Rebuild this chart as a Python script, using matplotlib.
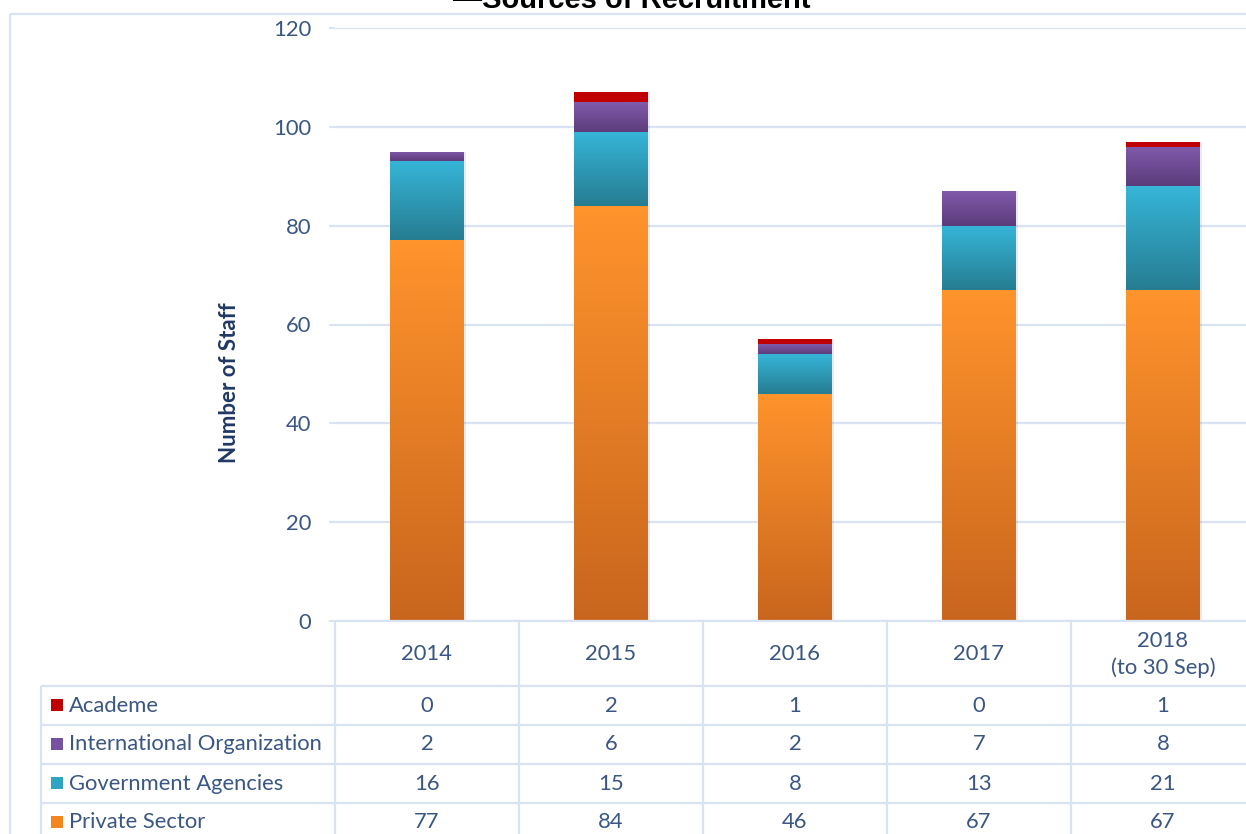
import matplotlib
matplotlib.use('Agg')
import matplotlib.pyplot as plt
import numpy as np
from matplotlib.colors import LinearSegmentedColormap
from matplotlib.lines import Line2D
from matplotlib.patches import Rectangle

# ---- data ----
years = ['2014', '2015', '2016', '2017', '2018\n(to 30 Sep)']
series_names = ['Academe', 'International Organization', 'Government Agencies', 'Private Sector']
academe = [0, 2, 1, 0, 1]
intl_org = [2, 6, 2, 7, 8]
gov_agencies = [16, 15, 8, 13, 21]
private_sector = [77, 84, 46, 67, 67]
yticks = [0, 20, 40, 60, 80, 100, 120]
title = '\u2014Sources of Recruitment'
ylabel = 'Number of Staff'

# ---- style ----
W, H = 1246, 834
FONT = 'Lato'
FS = 15.8
TXT = '#3A5683'
GRID = '#D9E3F3'
grad = {
    'Private Sector': ('#FF932C', '#C9661E'),
    'Government Agencies': ('#36B5D8', '#267D92'),
    'International Organization': ('#815AAB', '#5C3C7B'),
    'Academe': ('#C00000', '#C00000'),
}
swatch = {
    'Academe': '#C00000',
    'International Organization': '#7452A0',
    'Government Agencies': '#2FA5C3',
    'Private Sector': '#F5861F',
}

fig = plt.figure(figsize=(W / 100, H / 100), dpi=100)
fig.patch.set_facecolor('white')

def fx(px):
    return px / W

def fy(py):
    return 1 - py / H

ax = fig.add_axes([fx(335), fy(621), (1255 - 335) / W, (621 - 28) / H])
x = np.arange(len(years))
stack = [('Private Sector', private_sector), ('Government Agencies', gov_agencies),
         ('International Organization', intl_org), ('Academe', academe)]
bottom = np.zeros(len(years))
width = 0.4
for name, vals in stack:
    vals = np.array(vals, dtype=float)
    bars = ax.bar(x, vals, width, bottom=bottom, color='none', edgecolor='none', zorder=3)
    top_c, bot_c = grad[name]
    cmap = LinearSegmentedColormap.from_list(name, [bot_c, top_c])
    for b in bars:
        if b.get_height() <= 0:
            continue
        x0, y0 = b.get_x(), b.get_y()
        w, h = b.get_width(), b.get_height()
        g = np.linspace(1, 0, 64).reshape(-1, 1)
        im = ax.imshow(g, extent=[x0, x0 + w, y0, y0 + h], cmap=cmap, aspect='auto',
                       interpolation='bilinear', zorder=3, vmin=0, vmax=1)
        im.set_clip_path(b)
    bottom += vals

# soft shadow behind the bars
totals = bottom
ax.bar(x + 0.006, totals, width + 0.012, color='#000000', alpha=0.08, zorder=2, linewidth=0)

ax.set_xlim(-0.5, len(years) - 0.5)
ax.set_ylim(0, 120)
ax.set_yticks(yticks)
ax.set_yticklabels([str(t) for t in yticks], fontfamily=FONT, fontsize=FS, color=TXT)
ax.set_xticks([])
ax.tick_params(axis='y', length=4, color=GRID, pad=13, width=1.5)
for s in ax.spines.values():
    s.set_visible(False)
ax.yaxis.grid(True, color=GRID, linewidth=1.6, zorder=0)
ax.set_axisbelow(True)
ax.set_facecolor('none')

# y label
fig.text(fx(230), fy(383), ylabel, rotation=90, ha='center', va='center',
         fontfamily=FONT, fontweight='bold', fontsize=16, color='#203864')

# title (partially cut at top, as in the reference)
fig.text(fx(632), fy(8), title, ha='center', va='baseline',
         fontfamily='Liberation Sans', fontweight='bold', fontsize=21, color='black')

# ---- overlay for frame and data table ----
ov = fig.add_axes([0, 0, 1, 1], zorder=5)
ov.set_xlim(0, W)
ov.set_ylim(H, 0)
ov.axis('off')
ov.patch.set_alpha(0)

def line(xs, ys, c=GRID, lw=1.6):
    ov.add_line(Line2D(xs, ys, color=c, linewidth=lw, solid_capstyle='butt'))

# outer chart frame
line([10, 10], [14, H + 5])
line([10, W + 5], [14, 14])

col_left = 335
col_w = 184
header_top, header_bot = 621, 686
row_h = 39
table_left = 41

# header row lines
line([col_left, W + 5], [header_top, header_top])
for i in range(len(years) + 1):
    xc = col_left + col_w * i
    line([xc, xc], [header_top, H + 5])
# table body lines
line([table_left, W + 5], [header_bot, header_bot])
line([table_left, table_left], [header_bot, H + 5])
for r in range(1, 5):
    yy = header_bot + row_h * r
    line([table_left, W + 5], [yy, yy])

# header labels
for i, yr in enumerate(years):
    cx = col_left + col_w * (i + 0.5)
    ov.text(cx, (header_top + header_bot) / 2 + 1, yr, ha='center', va='center',
            fontfamily=FONT, fontsize=FS, color=TXT, linespacing=1.4)

rows = [('Academe', academe), ('International Organization', intl_org),
        ('Government Agencies', gov_agencies), ('Private Sector', private_sector)]
for r, (name, vals) in enumerate(rows):
    cy = header_bot + row_h * (r + 0.5)
    ov.add_patch(Rectangle((51, cy - 7), 12, 12, facecolor=swatch[name], edgecolor='none'))
    ov.text(69, cy, name, ha='left', va='center', fontfamily=FONT, fontsize=FS, color=TXT)
    for i, v in enumerate(vals):
        cx = col_left + col_w * (i + 0.5)
        ov.text(cx, cy, str(v), ha='center', va='center', fontfamily=FONT,
                fontsize=FS, color=TXT)

fig.savefig('out.png', dpi=100, facecolor='white')
